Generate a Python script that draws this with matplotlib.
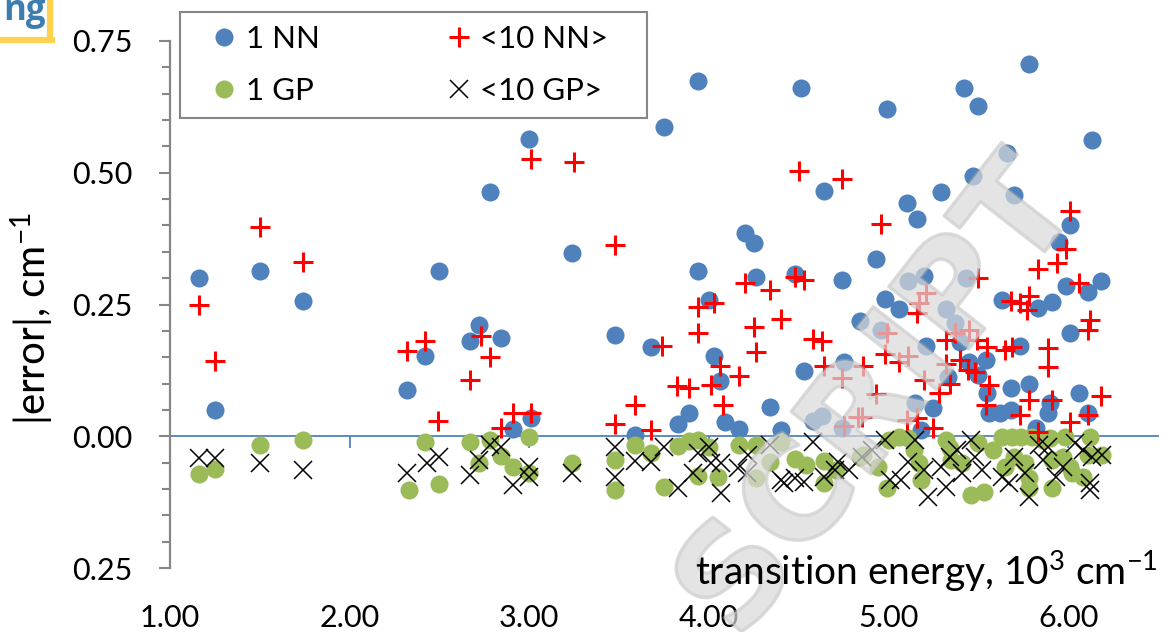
import matplotlib
matplotlib.use('Agg')
import matplotlib.pyplot as plt
from matplotlib.ticker import MultipleLocator, FuncFormatter, FixedLocator
from matplotlib.lines import Line2D
from matplotlib.patches import Rectangle
import matplotlib.patheffects as pe

plt.rcParams['font.family'] = ['Lato', 'DejaVu Sans']
plt.rcParams['mathtext.fontset'] = 'custom'
plt.rcParams['mathtext.rm'] = 'Lato'
plt.rcParams['mathtext.it'] = 'Lato:italic'
plt.rcParams['mathtext.bf'] = 'Lato:bold'

# ---------------- data (transition energy in 10^3 cm^-1, |error| in cm^-1) ----------------
nn1_x = [1.16, 1.25, 1.50, 1.74, 2.32, 2.42, 2.50, 2.67, 2.72, 2.84, 2.78, 2.91, 3.01, 3.00,
         3.24, 3.48, 3.59, 3.68, 3.75, 3.94, 3.94, 4.00, 4.03, 4.06, 3.89, 3.83, 4.09, 4.17,
         4.20, 4.25, 4.26, 4.34, 4.40, 4.48, 4.51, 4.53, 4.58, 4.63, 4.64, 4.74, 4.75, 4.74,
         4.99, 5.42, 5.50, 5.78, 6.13, 5.66, 5.47, 5.29, 5.10, 5.70, 5.16, 4.93, 6.01, 5.95,
         5.20, 5.43, 5.11, 5.99, 6.11, 6.18, 4.98, 5.06, 4.84, 5.63, 5.83, 5.91, 5.32, 5.37,
         4.96, 5.40, 5.21, 6.01, 5.73, 5.54, 5.45, 5.50, 5.33, 5.68, 5.78, 5.55, 5.56, 5.68,
         5.90, 5.89, 6.06, 6.11, 5.15, 5.25, 5.18, 5.82, 5.62]
nn1_y = [0.301, 0.049, 0.313, 0.256, 0.087, 0.152, 0.314, 0.180, 0.212, 0.186, 0.464, 0.013, 0.034, 0.564,
         0.348, 0.193, 0.002, 0.170, 0.587, 0.313, 0.674, 0.259, 0.152, 0.104, 0.044, 0.023, 0.027, 0.013,
         0.386, 0.367, 0.303, 0.055, 0.011, 0.307, 0.661, 0.123, 0.028, 0.038, 0.466, 0.297, 0.140, 0.015,
         0.621, 0.661, 0.627, 0.706, 0.563, 0.538, 0.494, 0.464, 0.443, 0.458, 0.413, 0.337, 0.400, 0.369,
         0.305, 0.301, 0.295, 0.286, 0.273, 0.294, 0.261, 0.242, 0.218, 0.258, 0.244, 0.254, 0.242, 0.214,
         0.201, 0.178, 0.172, 0.195, 0.172, 0.144, 0.140, 0.116, 0.112, 0.091, 0.100, 0.083, 0.044, 0.049,
         0.064, 0.044, 0.083, 0.044, 0.063, 0.053, 0.011, 0.015, 0.045]

nn10_x = [1.16, 1.25, 1.50, 1.74, 2.32, 2.42, 2.49, 2.67, 2.73, 2.78, 2.84, 2.91, 3.01, 3.01,
          3.25, 3.48, 3.48, 3.59, 3.68, 3.74, 3.82, 3.89, 3.94, 3.94, 4.01, 4.03, 4.06, 4.08,
          4.17, 4.20, 4.25, 4.26, 4.34, 4.40, 4.48, 4.53, 4.50, 4.58, 4.63, 4.64, 4.74, 4.74,
          4.75, 4.83, 4.86, 4.96, 6.01, 5.99, 5.94, 5.83, 6.06, 5.50, 5.78, 5.68, 5.73, 5.77,
          5.21, 5.17, 5.16, 6.12, 6.11, 4.99, 5.45, 5.37, 5.32, 5.49, 5.55, 5.65, 5.69, 5.89,
          5.89, 4.98, 5.06, 5.11, 5.40, 5.32, 5.44, 5.48, 5.20, 5.34, 5.28, 5.56, 4.93, 5.54,
          5.78, 5.91, 6.18, 5.73, 6.01, 6.11, 4.85, 5.10, 5.16, 5.25, 5.83]
nn10_y = [0.250, 0.142, 0.398, 0.331, 0.161, 0.180, 0.028, 0.106, 0.191, 0.150, 0.015, 0.045, 0.045, 0.527,
          0.521, 0.362, 0.023, 0.059, 0.011, 0.172, 0.095, 0.091, 0.195, 0.246, 0.098, 0.252, 0.133, 0.059,
          0.114, 0.290, 0.208, 0.159, 0.277, 0.223, 0.303, 0.297, 0.504, 0.184, 0.180, 0.134, 0.489, 0.110,
          0.019, 0.036, 0.134, 0.403, 0.428, 0.356, 0.328, 0.318, 0.290, 0.301, 0.267, 0.256, 0.252, 0.239,
          0.271, 0.252, 0.233, 0.220, 0.201, 0.195, 0.201, 0.195, 0.182, 0.182, 0.169, 0.163, 0.169, 0.167,
          0.131, 0.157, 0.140, 0.153, 0.144, 0.138, 0.125, 0.121, 0.106, 0.100, 0.083, 0.097, 0.081, 0.059,
          0.068, 0.068, 0.076, 0.040, 0.027, 0.040, 0.036, 0.030, 0.034, 0.015, 0.008]

gp1_x = [1.16, 1.25, 1.50, 1.74, 2.33, 2.42, 2.50, 2.67, 2.72, 2.78, 2.84, 2.91, 3.00, 3.00,
         3.24, 3.48, 3.48, 3.59, 3.68, 3.75, 3.83, 3.89, 3.94, 4.00, 3.94, 4.05, 4.17, 4.26,
         4.26, 4.34, 4.40, 4.48, 4.54, 4.64, 4.64, 4.71, 4.86, 4.94, 4.99, 5.00, 5.06, 5.11,
         5.14, 5.17, 5.18, 4.84, 5.32, 5.34, 5.41, 5.46, 5.53, 5.50, 5.58, 5.63, 5.69, 5.74,
         5.80, 5.70, 5.78, 5.78, 5.90, 5.97, 5.91, 5.98, 6.02, 6.12, 6.19, 6.11, 5.65, 6.01,
         6.08, 5.86, 5.35, 5.91, 5.76]
gp1_y = [0.072, 0.063, 0.017, 0.008, 0.102, 0.011, 0.091, 0.011, 0.051, 0.008, 0.038, 0.059, 0.002, 0.070,
         0.051, 0.045, 0.102, 0.017, 0.032, 0.097, 0.019, 0.009, 0.008, 0.021, 0.076, 0.078, 0.017, 0.017,
         0.080, 0.049, 0.011, 0.044, 0.055, 0.047, 0.089, 0.064, 0.036, 0.059, 0.098, 0.008, 0.002, 0.004,
         0.027, 0.051, 0.083, 0.040, 0.008, 0.023, 0.051, 0.112, 0.106, 0.013, 0.027, 0.002, 0.001, 0.001,
         0.002, 0.040, 0.080, 0.098, 0.004, 0.040, 0.098, 0.002, 0.070, 0.002, 0.036, 0.036, 0.059, 0.059,
         0.078, 0.008, 0.045, 0.045, 0.051]

gp10_x = [1.16, 1.25, 1.50, 1.74, 2.32, 2.43, 2.50, 2.67, 2.72, 2.78, 2.84, 2.91, 3.00, 3.00,
          3.24, 3.48, 3.48, 3.59, 3.68, 3.75, 3.83, 3.91, 3.94, 4.00, 4.01, 4.07, 4.07, 4.16,
          4.21, 4.22, 4.34, 4.42, 4.48, 4.53, 4.58, 4.64, 4.70, 4.78, 4.85, 4.91, 4.98, 5.01,
          5.07, 5.11, 5.15, 5.20, 5.22, 5.29, 5.34, 5.38, 5.32, 5.41, 5.46, 5.48, 5.52, 5.63,
          5.67, 5.70, 5.76, 5.78, 5.84, 5.86, 5.89, 5.93, 5.97, 6.04, 6.08, 6.13, 6.19, 6.12,
          6.12, 4.40, 4.72]
gp10_y = [0.042, 0.042, 0.051, 0.064, 0.070, 0.051, 0.040, 0.074, 0.045, 0.017, 0.021, 0.093, 0.059, 0.078,
          0.070, 0.021, 0.078, 0.047, 0.049, 0.021, 0.098, 0.070, 0.032, 0.021, 0.051, 0.108, 0.051, 0.061,
          0.070, 0.036, 0.017, 0.089, 0.080, 0.087, 0.011, 0.078, 0.064, 0.064, 0.040, 0.027, 0.008, 0.083,
          0.083, 0.049, 0.008, 0.064, 0.116, 0.059, 0.040, 0.027, 0.097, 0.070, 0.008, 0.040, 0.064, 0.078,
          0.089, 0.040, 0.070, 0.116, 0.017, 0.045, 0.021, 0.078, 0.059, 0.013, 0.027, 0.040, 0.036, 0.089,
          0.102, 0.083, 0.049]

x_ticks = [1.0, 2.0, 3.0, 4.0, 5.0, 6.0]
y_ticks = [-0.25, 0.0, 0.25, 0.50, 0.75]
labels = ['1 NN', '1 GP', '<10 NN>', '<10 GP>']

BLUE = '#4F81BD'
GREEN = '#9BBB59'
GRAY = '#868686'

W, H = 1162, 632
fig = plt.figure(figsize=(W / 100, H / 100), dpi=100)
ax = fig.add_axes([170 / W, 1 - 568 / H, (1158 - 170) / W, (568 - 41) / H])

h_nn1, = ax.plot(nn1_x, nn1_y, ls='none', marker='o', ms=13, mfc=BLUE, mec=BLUE, mew=0,
                 label=labels[0], zorder=3, clip_on=False)
h_gp1, = ax.plot(gp1_x, [-v for v in gp1_y], ls='none', marker='o', ms=13, mfc=GREEN, mec=GREEN,
                 mew=0, label=labels[1], zorder=4, clip_on=False)
h_nn10, = ax.plot(nn10_x, nn10_y, ls='none', marker='+', ms=14, mec='#FF0000', mew=2.2,
                  label=labels[2], zorder=5, clip_on=False)
h_gp10, = ax.plot(gp10_x, [-v for v in gp10_y], ls='none', marker='x', ms=13, mec='black', mew=1.1,
                  label=labels[3], zorder=6, clip_on=False)

ax.set_xlim(1.0, 6.5)
ax.set_ylim(-0.25, 0.75)

for s in ['top', 'right']:
    ax.spines[s].set_visible(False)
ax.spines['left'].set_color(GRAY)
ax.spines['left'].set_linewidth(1.6)
ax.spines['bottom'].set_position(('data', 0))
ax.spines['bottom'].set_color(BLUE)
ax.spines['bottom'].set_linewidth(1.3)
ax.spines['bottom'].set_zorder(2)

ax.yaxis.set_major_locator(FixedLocator(y_ticks))
ax.yaxis.set_minor_locator(MultipleLocator(0.05))
ax.yaxis.set_major_formatter(FuncFormatter(lambda v, p: f'{abs(v):.2f}'))
ax.tick_params(axis='y', which='major', length=8, width=1.5, color=GRAY, direction='out',
               labelsize=22, pad=19)
ax.tick_params(axis='y', which='minor', length=6, width=1.5, color=GRAY, direction='out')

ax.xaxis.set_major_locator(FixedLocator(x_ticks))
ax.tick_params(axis='x', which='major', length=8.5, width=1.3, color=BLUE, direction='out',
               labelbottom=False)

sec = ax.secondary_xaxis('bottom')
sec.xaxis.set_major_locator(FixedLocator(x_ticks))
sec.xaxis.set_major_formatter(FuncFormatter(lambda v, p: f'{v:.2f}'))
sec.tick_params(axis='x', length=0, labelsize=22, pad=26)
sec.spines['bottom'].set_visible(False)

ax.set_ylabel(r'|error|, cm$^{-1}$', fontsize=29)
ax.yaxis.set_label_coords(-0.1154, 0.474)

# watermark (drawn beneath the axis title text)
ax.text(880 / W, 1 - 400 / H, 'SCRIPT', transform=fig.transFigure, rotation=52, ha='center',
        va='center', fontsize=100, fontweight='bold', family='DejaVu Sans', color='#dadada',
        alpha=0.45, zorder=12, clip_on=False,
        path_effects=[pe.withStroke(linewidth=2.5, foreground='#b0b0b0')])

ax.text(1.0, -0.032, r'transition energy, 10$^{3}$ cm$^{-1}$', transform=ax.transAxes,
        ha='right', va='baseline', fontsize=28, zorder=13)

leg = ax.legend(handles=[h_nn1, h_gp1, h_nn10, h_gp10], ncol=2, loc='upper left',
                bbox_to_anchor=(208.7 / W, 1 - 25 / H), bbox_transform=fig.transFigure,
                frameon=False, borderpad=0, borderaxespad=0, handlelength=1.0,
                handletextpad=0.19, columnspacing=3.95, labelspacing=0.76, fontsize=22.5,
                numpoints=1)
leg.set_zorder(20)
ax.add_patch(Rectangle((180 / W, 1 - 118 / H), (647 - 180) / W, (118 - 12) / H,
                       transform=fig.transFigure, fill=True, fc='white', ec=GRAY, lw=1.5,
                       zorder=15, clip_on=False))

# corner logo fragment
fig.add_artist(Line2D([50 / W, 50 / W], [1.0, 1 - 40 / H], transform=fig.transFigure,
                      color='#FFD24F', lw=4.5))
fig.add_artist(Line2D([0, 52 / W], [1 - 40 / H, 1 - 40 / H], transform=fig.transFigure,
                      color='#FFD24F', lw=4.5))
fig.text(3 / W, 1 - 20 / H, 'ng', fontsize=25, fontweight='bold', color='#3C7DB0',
         ha='left', va='baseline', family=['Open Sans', 'DejaVu Sans'])

fig.savefig('out.png', dpi=100)
